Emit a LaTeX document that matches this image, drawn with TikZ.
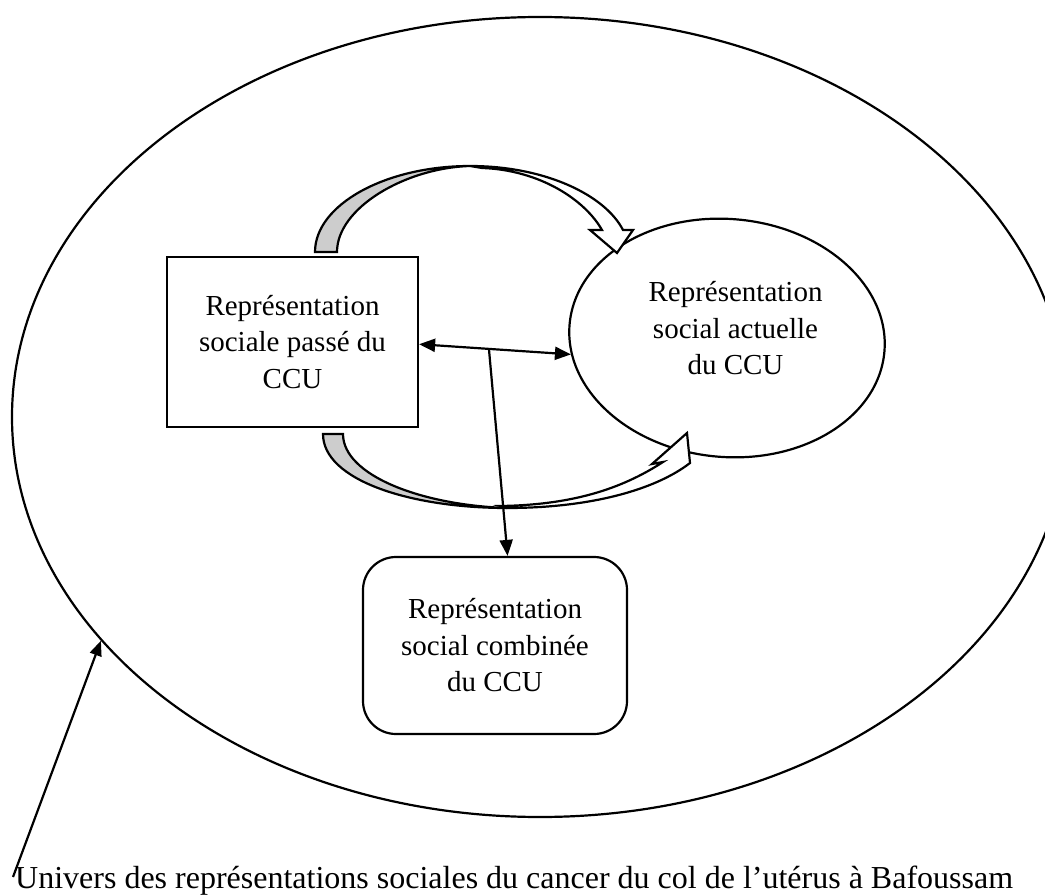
\documentclass[tikz,border=0pt]{standalone}
\usepackage{fontspec}
\setmainfont{Liberation Serif}
\usetikzlibrary{shapes.geometric,arrows.meta}
\definecolor{bandgray}{RGB}{205,205,205}
\begin{document}
\begin{tikzpicture}[x=1pt,y=-1pt,
  outline/.style={draw=black, line width=2.2pt, inner sep=0pt},
  boxtext/.style={font=\fontsize{29}{36.5}\selectfont, align=center},
  tip/.style={Triangle[length=16pt,width=13pt]},
  link/.style={line width=2.2pt, -{Triangle[length=16pt,width=13pt]}},
  duallink/.style={line width=2.2pt, {Triangle[length=16pt,width=13pt]}-{Triangle[length=16pt,width=13pt]}},
  bandback/.style={draw=black, line width=2.2pt, fill=bandgray, line join=miter},
  bandfront/.style={draw=black, line width=2.2pt, fill=white, line join=miter},
]
\useasboundingbox (0,0) rectangle (1045,896);
\clip (0,0) rectangle (1045,896);

% the whole universe of social representations
\node[ellipse, outline, minimum width=1056pt, minimum height=800pt] (univ) at (540,417) {};

% the three representations
\node[rectangle, outline, minimum width=251pt, minimum height=170pt, boxtext]
  (past) at (292.5,342) {Représentation\\sociale passé du\\CCU};
\node[ellipse, outline, minimum width=316pt, minimum height=238pt, rotate=-5,
  label={[boxtext, xshift=8.5pt, yshift=9.5pt]center:{Représentation\\social actuelle\\du CCU}}]
  (now) at (727,338) {};
\node[rectangle, rounded corners=33pt, outline, minimum width=264pt, minimum height=177pt, boxtext]
  (comb) at (495,645.5) {Représentation\\social combinée\\du CCU};

% upper curved arrow: past -> present
\draw[bandback] (315,252) .. controls (315,205) and (385,166) .. (470,166)
  .. controls (405,168) and (337,208) .. (337,252) -- cycle;
\draw[bandfront] (470,166) .. controls (545,166) and (605,195) .. (623,230)
  -- (633,230) -- (617,253) -- (590,230) -- (602,230)
  .. controls (585,200) and (540,170) .. (482,168) -- cycle;

% lower curved arrow: past -> present
\draw[bandback] (323,434) .. controls (323,480) and (410,508) .. (507,508)
  .. controls (420,505) and (343,475) .. (343,434) -- cycle;
\draw[bandfront] (507,508) .. controls (590,508) and (655,490) .. (690,463)
  -- (687,433) -- (652,464) -- (663,462)
  .. controls (620,490) and (570,505) .. (500,506) -- cycle;

% exchanges between the representations
\draw[duallink] (past.-1.8) -- coordinate[pos=0.46] (mid) (now.191.1);
\draw[link] (mid) -- (comb.82.3);

% caption and its pointer
\node[anchor=base west, inner sep=0pt, font=\fontsize{32}{38}\selectfont]
  (caption) at (15,888) {Univers des représentations sociales du cancer du col de l’utérus à Bafoussam};
\coordinate (ptr) at (13,877);
\draw[line width=2.2pt, -{Triangle[length=15pt,width=12pt]}] (ptr) -- (univ.207.55);
\end{tikzpicture}
\end{document}
